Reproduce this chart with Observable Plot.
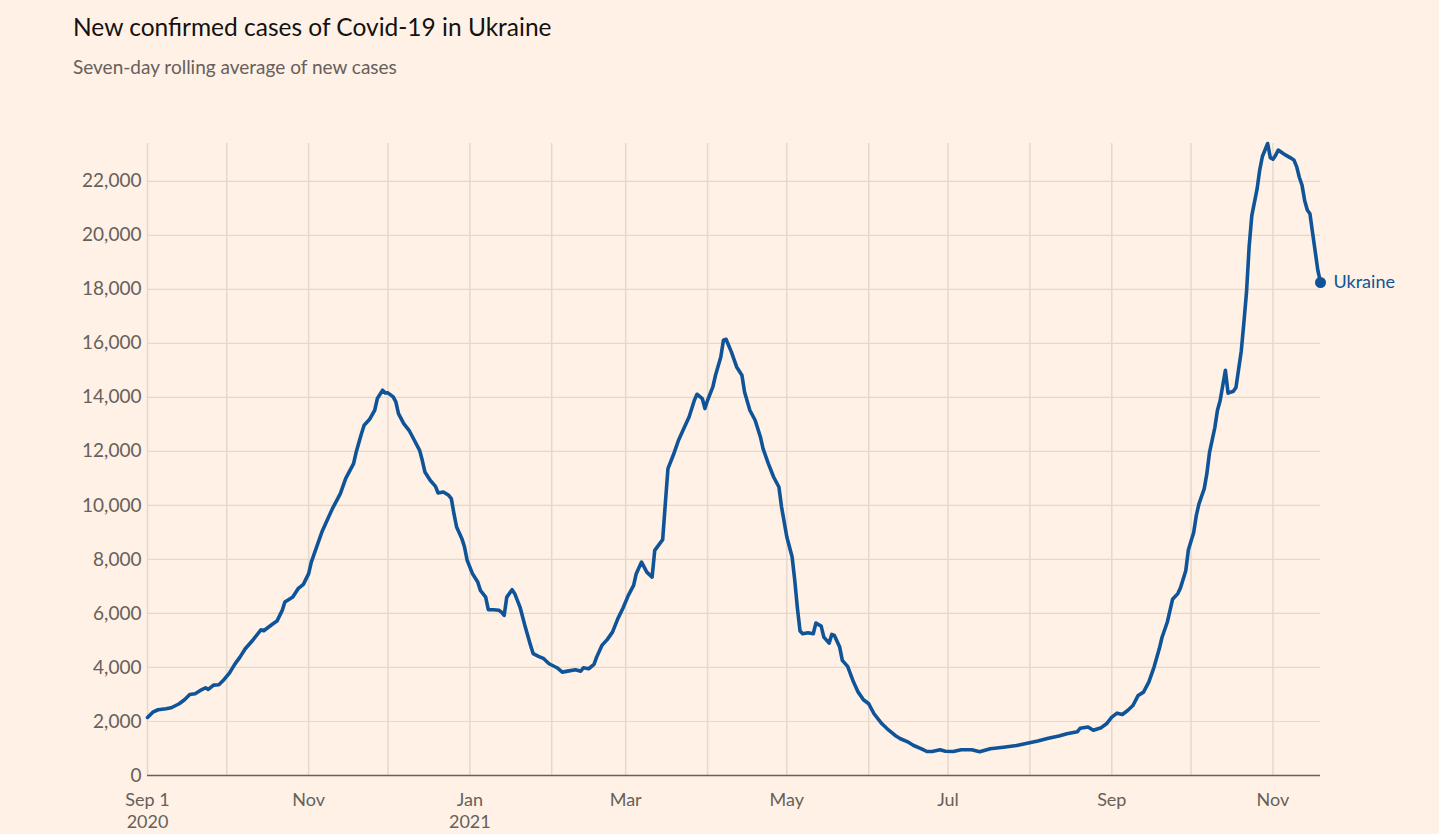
<!DOCTYPE html>
<html><head><meta charset="utf-8">
<script src="https://cdn.jsdelivr.net/npm/d3@7"></script>
<script src="https://cdn.jsdelivr.net/npm/@observablehq/plot@0.6"></script>
<style>
html,body{margin:0;padding:0;background:#FFF1E5;}
#wrap{position:relative;width:1439px;height:834px;overflow:hidden;font-family:Lato,"Noto Sans",sans-serif;}
#title{position:absolute;left:73px;top:12px;font-size:24.5px;color:#141211;line-height:30px;white-space:nowrap;}
#subtitle{position:absolute;left:73px;top:55px;font-size:19px;color:#66605C;line-height:24px;white-space:nowrap;}
#chart{position:absolute;left:0;top:100px;}
</style></head>
<body><div id="wrap"><div id="title">New confirmed cases of Covid-19 in Ukraine</div><div id="subtitle">Seven-day rolling average of new cases</div><div id="chart"></div></div>
<script>
const seriesName = "Ukraine";
const dates = [
"2020-09-01","2020-09-03","2020-09-05","2020-09-08","2020-09-10","2020-09-13","2020-09-15","2020-09-17","2020-09-19","2020-09-21",
"2020-09-23","2020-09-24","2020-09-26","2020-09-28","2020-09-30","2020-10-02","2020-10-04","2020-10-06","2020-10-08","2020-10-11",
"2020-10-14","2020-10-15","2020-10-18","2020-10-20","2020-10-22","2020-10-23","2020-10-26","2020-10-28","2020-10-30","2020-11-01",
"2020-11-02","2020-11-04","2020-11-06","2020-11-08","2020-11-10","2020-11-13","2020-11-15","2020-11-18","2020-11-19","2020-11-21",
"2020-11-22","2020-11-24","2020-11-26","2020-11-27","2020-11-29","2020-11-30","2020-12-01","2020-12-03","2020-12-04","2020-12-05",
"2020-12-07","2020-12-09","2020-12-11","2020-12-13","2020-12-14","2020-12-15","2020-12-17","2020-12-19","2020-12-20","2020-12-22",
"2020-12-24","2020-12-25","2020-12-26","2020-12-27","2020-12-29","2020-12-30","2020-12-31","2021-01-02","2021-01-04","2021-01-05",
"2021-01-07","2021-01-08","2021-01-10","2021-01-12","2021-01-13","2021-01-14","2021-01-15","2021-01-17","2021-01-18","2021-01-20",
"2021-01-22","2021-01-24","2021-01-25","2021-01-27","2021-01-29","2021-01-31","2021-02-03","2021-02-05","2021-02-07","2021-02-10",
"2021-02-12","2021-02-13","2021-02-15","2021-02-17","2021-02-18","2021-02-20","2021-02-22","2021-02-24","2021-02-26","2021-02-28",
"2021-03-02","2021-03-04","2021-03-05","2021-03-07","2021-03-09","2021-03-11","2021-03-12","2021-03-15","2021-03-16","2021-03-17",
"2021-03-19","2021-03-21","2021-03-23","2021-03-25","2021-03-27","2021-03-28","2021-03-30","2021-03-31","2021-04-01","2021-04-03",
"2021-04-04","2021-04-06","2021-04-07","2021-04-08","2021-04-10","2021-04-12","2021-04-14","2021-04-15","2021-04-17","2021-04-19",
"2021-04-21","2021-04-22","2021-04-24","2021-04-26","2021-04-28","2021-04-29","2021-05-01","2021-05-03","2021-05-04","2021-05-05",
"2021-05-06","2021-05-07","2021-05-09","2021-05-11","2021-05-12","2021-05-14","2021-05-15","2021-05-17","2021-05-18","2021-05-19",
"2021-05-21","2021-05-22","2021-05-24","2021-05-26","2021-05-28","2021-05-30","2021-06-01","2021-06-03","2021-06-06","2021-06-08",
"2021-06-11","2021-06-13","2021-06-16","2021-06-18","2021-06-21","2021-06-23","2021-06-25","2021-06-28","2021-06-30","2021-07-03",
"2021-07-06","2021-07-10","2021-07-13","2021-07-17","2021-07-22","2021-07-27","2021-07-31","2021-08-04","2021-08-08","2021-08-12",
"2021-08-15","2021-08-19","2021-08-20","2021-08-23","2021-08-25","2021-08-28","2021-08-30","2021-09-01","2021-09-03","2021-09-05",
"2021-09-07","2021-09-09","2021-09-11","2021-09-13","2021-09-15","2021-09-17","2021-09-19","2021-09-20","2021-09-22","2021-09-24",
"2021-09-26","2021-09-27","2021-09-29","2021-09-30","2021-10-02","2021-10-03","2021-10-04","2021-10-06","2021-10-07","2021-10-08",
"2021-10-10","2021-10-11","2021-10-12","2021-10-14","2021-10-15","2021-10-17","2021-10-18","2021-10-20","2021-10-21","2021-10-22",
"2021-10-23","2021-10-24","2021-10-26","2021-10-27","2021-10-28","2021-10-30","2021-10-31","2021-11-01","2021-11-02","2021-11-03",
"2021-11-05","2021-11-06","2021-11-08","2021-11-09","2021-11-10","2021-11-11","2021-11-12","2021-11-13","2021-11-14","2021-11-15",
"2021-11-16","2021-11-17","2021-11-18","2021-11-19"
];
const cases = [
2150,2345,2434,2471,2508,2656,2805,3001,3027,3149,
3249,3186,3346,3360,3557,3790,4113,4383,4694,5028,
5398,5360,5583,5717,6113,6421,6606,6917,7077,7473,
7903,8459,9014,9448,9881,10437,10993,11549,11978,12660,
12968,13179,13523,13957,14264,14165,14165,14017,13831,13401,
13031,12782,12412,12041,11671,11238,10930,10707,10459,10496,
10374,10252,9696,9200,8770,8459,7966,7473,7162,6854,
6606,6139,6139,6120,6050,5928,6606,6880,6732,6236,
5495,4817,4509,4409,4324,4138,3990,3827,3864,3916,
3864,3990,3953,4113,4383,4817,5030,5309,5800,6200,
6669,7040,7473,7903,7532,7347,8336,8732,10067,11363,
11856,12412,12845,13275,13894,14116,13957,13586,13894,14387,
14820,15498,16117,16150,15683,15127,14820,14202,13523,13153,
12534,12104,11549,11053,10682,9941,8829,8088,7225,6200,
5350,5250,5287,5250,5643,5532,5124,4902,5224,5187,
4754,4261,4039,3520,3086,2805,2656,2286,1915,1730,
1482,1360,1234,1112,989,889,889,952,900,889,
952,952,880,989,1049,1112,1193,1278,1378,1463,
1549,1623,1749,1797,1675,1771,1915,2160,2308,2260,
2408,2593,2964,3086,3457,4013,4700,5110,5675,6523,
6735,6947,7583,8361,8997,9633,10057,10622,11187,11965,
12881,13520,13873,15004,14156,14226,14368,15711,16770,17901,
19597,20728,21717,22424,22919,23400,22876,22820,22961,23159,
23018,22961,22848,22777,22537,22141,21859,21293,20940,20799,
20100,19400,18700,18254
];
const yTicks = [0,2000,4000,6000,8000,10000,12000,14000,16000,18000,20000,22000];
const xTickDates = ["2020-09-01","2020-11-01","2021-01-01","2021-03-01","2021-05-01","2021-07-01","2021-09-01","2021-11-01"];
const xTickLabels = ["Sep 1\n2020","Nov","Jan\n2021","Mar","May","Jul","Sep","Nov"];

const parse = d3.utcParse("%Y-%m-%d");
const data = dates.map((d, i) => ({date: parse(d), value: cases[i]}));
const last = data[data.length - 1];
const xTicks = xTickDates.map(parse);
const labelOf = new Map(xTicks.map((d, i) => [+d, xTickLabels[i]]));
const monthLines = d3.utcMonth.range(data[0].date, d3.utcDay.offset(last.date, 1));

const chart = Plot.plot({
  width: 1439, height: 734,
  marginTop: 43, marginBottom: 59, marginLeft: 147, marginRight: 119,
  style: {background: "transparent", fontFamily: "Lato, 'Noto Sans', sans-serif", color: "#66605C", overflow: "visible"},
  x: {type: "utc", domain: [data[0].date, last.date]},
  y: {domain: [0, d3.max(cases)]},
  marks: [
    Plot.ruleX(monthLines, {stroke: "#E6D8CC", strokeWidth: 1.5}),
    Plot.gridY({ticks: yTicks, stroke: "#E6D8CC", strokeOpacity: 1, strokeWidth: 1.2}),
    Plot.ruleY([0], {stroke: "#66605C", strokeWidth: 1.3}),
    Plot.axisY({ticks: yTicks, tickSize: 0, tickPadding: 6, fontSize: 19, fill: "#66605C", tickFormat: d3.format(","), label: null}),
    Plot.axisX({ticks: xTicks, tickSize: 0, tickPadding: 16, fontSize: 18, lineHeight: 1.17, fill: "#66605C", tickFormat: d => labelOf.get(+d), label: null}),
    Plot.line(data, {x: "date", y: "value", stroke: "#0F5499", strokeWidth: 3.6, strokeLinejoin: "round"}),
    Plot.dot([last], {x: "date", y: "value", r: 5.5, fill: "#0F5499"}),
    Plot.text([last], {x: "date", y: "value", text: () => seriesName, dx: 13, textAnchor: "start", fill: "#0F5499", fontSize: 18})
  ]
});
document.getElementById("chart").appendChild(chart);
</script>
</body></html>
